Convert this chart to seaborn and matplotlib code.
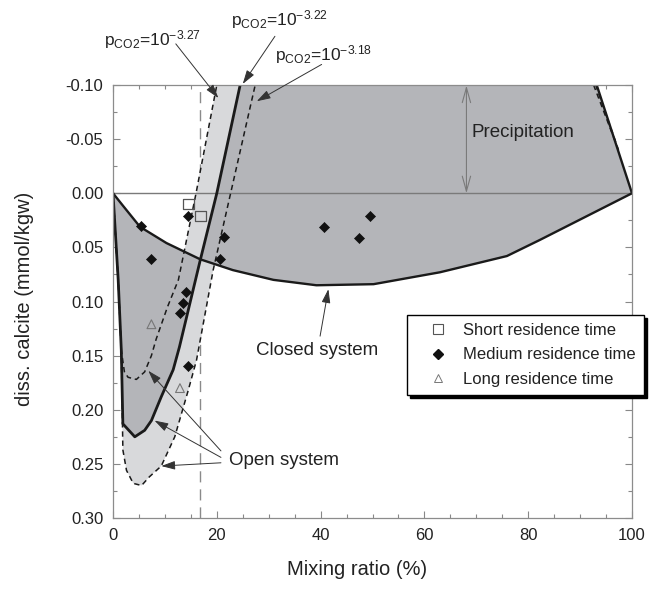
import matplotlib
matplotlib.use("Agg")
import matplotlib.pyplot as plt
import seaborn as sns
from matplotlib.lines import Line2D
from matplotlib.ticker import MultipleLocator, FormatStrFormatter

# ---------------- data ----------------
# closed system curve
closed_x = [0, 2.0, 5.2, 10.3, 16.8, 23.1, 30.9, 39.2, 50.2, 63.0, 75.9, 82.3, 100]
closed_y = [0, 0.012, 0.031, 0.046, 0.061, 0.071, 0.080, 0.085, 0.084, 0.073, 0.058, 0.043, 0.0]
# precipitation boundary (right side)
precip_x = [100, 93.2]
precip_y = [0.0, -0.10]
precip_dash1_x = [92.6, 97.0]
precip_dash1_y = [-0.10, -0.045]
precip_dash2_x = [93.0, 97.4]
precip_dash2_y = [-0.10, -0.040]

# open system, pCO2 = 10^-3.22 (solid)
open322_x = [0, 1.0, 1.6, 1.9, 4.2, 6.1, 7.4, 9.3, 11.6, 12.8, 16.8, 20.0, 24.5]
open322_y = [0, 0.080, 0.145, 0.213, 0.225, 0.219, 0.210, 0.188, 0.163, 0.142, 0.062, 0.0, -0.10]
# open system, pCO2 = 10^-3.27 (dashed, inner)
open327_x = [0, 1.0, 1.6, 2.2, 2.9, 4.5, 6.1, 7.4, 8.3, 10.5, 12.6, 14.3, 16.0, 20.0]
open327_y = [0, 0.080, 0.145, 0.165, 0.170, 0.172, 0.165, 0.150, 0.135, 0.105, 0.080, 0.040, 0.0, -0.10]
# open system, pCO2 = 10^-3.18 (dashed, outer)
open318_x = [0, 1.0, 1.6, 1.8, 1.9, 2.6, 3.9, 5.5, 7.0, 9.3, 11.9, 14.5, 16.1, 19.3, 27.4]
open318_y = [0, 0.080, 0.145, 0.206, 0.237, 0.256, 0.268, 0.270, 0.262, 0.252, 0.225, 0.182, 0.154, 0.071, -0.10]

# vertical reference line
vline_x = 16.8

# observations
short_x = [14.5, 16.8]
short_y = [0.010, 0.021]
medium_x = [5.4, 7.4, 14.5, 21.3, 20.7, 14.0, 13.4, 12.9, 14.5, 40.7, 47.4, 49.5]
medium_y = [0.030, 0.061, 0.021, 0.040, 0.061, 0.091, 0.101, 0.111, 0.160, 0.031, 0.041, 0.021]
long_x = [7.4, 12.9]
long_y = [0.121, 0.180]

legend_labels = ["Short residence time", "Medium residence time", "Long residence time"]
pco2_labels = [r"p$_{\mathrm{CO2}}$=10$^{\mathrm{-3.27}}$",
               r"p$_{\mathrm{CO2}}$=10$^{\mathrm{-3.22}}$",
               r"p$_{\mathrm{CO2}}$=10$^{\mathrm{-3.18}}$"]

# ---------------- style ----------------
sns.set_theme(style="ticks")
plt.rcParams['font.family'] = ['Liberation Sans', 'DejaVu Sans']
plt.rcParams['mathtext.fontset'] = 'custom'
plt.rcParams['mathtext.rm'] = 'Liberation Sans'
plt.rcParams['mathtext.it'] = 'Liberation Sans:italic'
plt.rcParams['mathtext.bf'] = 'Liberation Sans:bold'
plt.rcParams['axes.unicode_minus'] = False

TXT = '#222222'
DARK = '#b4b5b9'
LIGHT = '#d8d9db'

fig = plt.figure(figsize=(6.58, 5.90), dpi=100)
ax = fig.add_axes([113 / 658, 1 - 518 / 590, 519 / 658, 433 / 590])
ax.set_facecolor('white')

# vertical dashed line (behind fills)
ax.axvline(vline_x, color='#8a8a8a', lw=1.0, linestyle=(0, (8, 5)), zorder=1)

# light grey region between pCO2 -3.27 and -3.18 curves
light_x = open318_x + open327_x[::-1]
light_y = open318_y + open327_y[::-1]
ax.fill(light_x, light_y, color=LIGHT, lw=0, zorder=2)

# dark grey region: between pCO2 -3.22 curve and closed-system curve
dark_x = open322_x[::-1] + closed_x[1:] + [precip_x[1]]
dark_y = open322_y[::-1] + closed_y[1:] + [precip_y[1]]
ax.fill(dark_x, dark_y, color=DARK, lw=0, zorder=2.2)

# zero line
ax.axhline(0, color='#7a7a7a', lw=1.0, zorder=3)

# curves
sns.lineplot(x=closed_x, y=closed_y, sort=False, estimator=None, color='k', linewidth=1.7, ax=ax, zorder=4)
sns.lineplot(x=precip_x, y=precip_y, sort=False, estimator=None, color='k', linewidth=1.7, ax=ax, zorder=4)
sns.lineplot(x=open322_x, y=open322_y, sort=False, estimator=None, color='k', linewidth=2.0, ax=ax, zorder=4)
for xs, ys in [(open327_x, open327_y), (open318_x, open318_y),
               (precip_dash1_x, precip_dash1_y), (precip_dash2_x, precip_dash2_y)]:
    sns.lineplot(x=xs, y=ys, sort=False, estimator=None, color='k', linewidth=1.1,
                 linestyle=(0, (3.5, 2.5)), ax=ax, zorder=4)

# observations
sns.scatterplot(x=short_x, y=short_y, marker='s', s=60, color='#555555', facecolor='none',
                edgecolor='#555555', linewidth=0.9, ax=ax, zorder=5)
sns.scatterplot(x=medium_x, y=medium_y, marker='D', s=26, color='#111111', edgecolor='#111111',
                linewidth=0.5, ax=ax, zorder=5)
sns.scatterplot(x=long_x, y=long_y, marker='^', s=40, color='#777777', facecolor='none',
                edgecolor='#777777', linewidth=0.8, ax=ax, zorder=5)

# axes
ax.set_xlim(0, 100)
ax.set_ylim(0.30, -0.10)
ax.xaxis.set_major_locator(MultipleLocator(20))
ax.xaxis.set_minor_locator(MultipleLocator(5))
ax.yaxis.set_major_locator(MultipleLocator(0.05))
ax.yaxis.set_minor_locator(MultipleLocator(0.025))
ax.yaxis.set_major_formatter(FormatStrFormatter('%.2f'))
ax.tick_params(which='both', direction='in', top=True, right=True, color='#888888', width=0.8)
ax.tick_params(which='major', length=5, labelsize=12, labelcolor=TXT, pad=7)
ax.tick_params(which='minor', length=3)
for s in ax.spines.values():
    s.set_color('#8c8c8c')
    s.set_linewidth(0.9)
    s.set_zorder(6)

ax.set_xlabel('Mixing ratio (%)', fontsize=14.5, color=TXT)
ax.set_ylabel('diss. calcite (mmol/kgw)', fontsize=14.5, color=TXT)
ax.xaxis.set_label_coords(0.47, -0.097)
ax.yaxis.set_label_coords(-0.152, 0.505)

# ---------------- annotations ----------------
arrow_kw = dict(arrowstyle='-|>,head_length=0.7,head_width=0.22', color='#333333', lw=0.7,
                shrinkA=0, shrinkB=0)

# pCO2 labels
pco2_text_pos = [(7.7, -0.142), (32.0, -0.160), (40.6, -0.128)]
pco2_arrow_start = [(12.1, -0.138), (31.2, -0.145), (40.2, -0.119)]
pco2_arrow_tip = [(20.3, -0.088), (25.0, -0.101), (27.7, -0.085)]
for lab, tp, st, tip in zip(pco2_labels, pco2_text_pos, pco2_arrow_start, pco2_arrow_tip):
    ax.text(tp[0], tp[1], lab, fontsize=12.5, color=TXT, ha='center', va='center', clip_on=False)
    ax.annotate('', xy=tip, xytext=st, arrowprops=arrow_kw, annotation_clip=False, zorder=7)

# Closed system
ax.text(39.3, 0.145, 'Closed system', fontsize=13.5, color=TXT, ha='center', va='center')
ax.annotate('', xy=(41.5, 0.0886), xytext=(39.9, 0.132), arrowprops=arrow_kw, zorder=7)

# Open system
ax.text(32.9, 0.247, 'Open system', fontsize=13.5, color=TXT, ha='center', va='center')
for st, tip in [((20.8, 0.238), (6.8, 0.164)), ((20.8, 0.244), (8.0, 0.210)),
                ((20.8, 0.249), (9.3, 0.252))]:
    ax.annotate('', xy=tip, xytext=st, arrowprops=arrow_kw, zorder=7)

# Precipitation
ax.text(69.1, -0.056, 'Precipitation', fontsize=13.5, color=TXT, ha='left', va='center', zorder=7)
ax.annotate('', xy=(68.1, -0.0995), xytext=(68.1, 0.0),
            arrowprops=dict(arrowstyle='<->,head_length=0.9,head_width=0.25', color='#7a7a7a',
                            lw=0.8, shrinkA=0, shrinkB=0), zorder=7)

# legend
handles = [Line2D([], [], marker='s', ls='', mfc='none', mec='#555555', ms=7, mew=0.8),
           Line2D([], [], marker='D', ls='', color='#111111', ms=5),
           Line2D([], [], marker='^', ls='', mfc='none', mec='#777777', ms=6, mew=0.7)]
leg = ax.legend(handles, legend_labels, loc='upper left', bbox_to_anchor=(0.566, 0.469),
                borderaxespad=0, fontsize=12, frameon=True, fancybox=False,
                edgecolor='black', framealpha=1, handlelength=2.75, handletextpad=0.15,
                borderpad=0.5, labelspacing=0.55, shadow={'shade': 1.0, 'alpha': 1})
leg.get_frame().set_linewidth(1.0)
for t in leg.get_texts():
    t.set_color(TXT)
leg.set_zorder(10)

fig.savefig('out.png', dpi=100)
